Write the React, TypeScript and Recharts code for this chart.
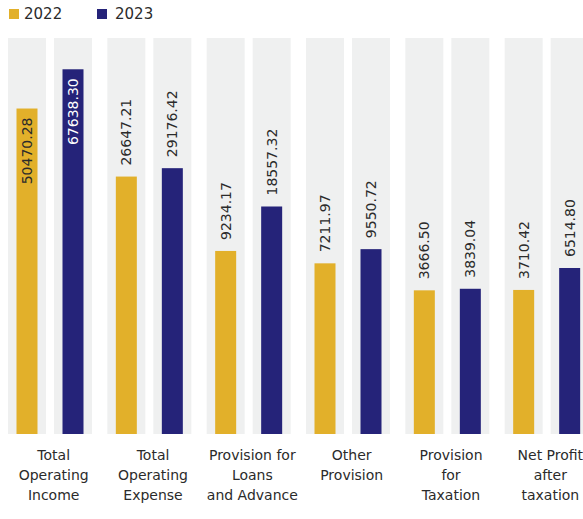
import { Bar, BarChart, LabelList, XAxis, YAxis } from "recharts";

const categories = [
  "Total\nOperating\nIncome",
  "Total\nOperating\nExpense",
  "Provision for\nLoans\nand Advance",
  "Other\nProvision",
  "Provision\nfor\nTaxation",
  "Net Profit\nafter\ntaxation",
];
const values2022 = [50470.28, 26647.21, 9234.17, 7211.97, 3666.5, 3710.42];
const values2023 = [67638.3, 29176.42, 18557.32, 9550.72, 3839.04, 6514.8];
const seriesNames = ["2022", "2023"];

const GOLD = "#e2b02a";
const NAVY = "#252379";
const TRACK = "#eff0f0";
const INK = "#2b2b2b";
const FONT = "DejaVu Sans, sans-serif";

// sqrt scale floor sits below zero so small values still read as bars
const FLOOR = -4777;
const CEIL = 83120;
const PLOT_TOP = 38;

const data = categories.map((name, i) => ({
  name,
  y2022: values2022[i],
  y2023: values2023[i],
}));

const NarrowBar = (props: any) => {
  const { x, y, width, height, fill } = props;
  const w = 21;
  return <rect x={x + (width - w) / 2} y={y} width={w} height={height} fill={fill} />;
};

const makeValueLabel = (insideColor: string) => (props: any) => {
  const { x, y, width, value } = props;
  const text = Number(value).toFixed(2);
  const cx = x + width / 2;
  const approxLen = text.length * 8.4;
  const inside = y - 11 - approxLen < PLOT_TOP;
  const ty = inside ? y + 9 : y - 11;
  return (
    <text
      x={cx}
      y={ty}
      transform={`rotate(-90, ${cx}, ${ty})`}
      textAnchor={inside ? "end" : "start"}
      dominantBaseline="central"
      fontSize={14}
      fontFamily={FONT}
      fill={inside ? insideColor : INK}
    >
      {text}
    </text>
  );
};

const CategoryTick = (props: any) => {
  const { x, payload } = props;
  const lines = String(payload.value).split("\n");
  return (
    <g transform={`translate(${x + 4},434)`}>
      {lines.map((line, i) => (
        <text
          key={i}
          x={0}
          y={26 + i * 20}
          textAnchor="middle"
          fontSize={14}
          fontFamily={FONT}
          fill={INK}
        >
          {line}
        </text>
      ))}
    </g>
  );
};

export default function App() {
  return (
    <div
      style={{
        position: "absolute",
        left: 0,
        top: 0,
        width: 583,
        height: 519,
        overflow: "hidden",
        background: "#fff",
      }}
    >
      <div
        style={{
          position: "absolute",
          left: 9,
          top: 4,
          display: "flex",
          alignItems: "center",
          fontFamily: FONT,
          fontSize: 15,
          color: INK,
          height: 20,
        }}
      >
        <span style={{ width: 10, height: 10, background: GOLD, display: "inline-block" }} />
        <span style={{ marginLeft: 5, width: 73 }}>{seriesNames[0]}</span>
        <span style={{ width: 10, height: 10, background: NAVY, display: "inline-block" }} />
        <span style={{ marginLeft: 8 }}>{seriesNames[1]}</span>
      </div>
      <BarChart
        width={600}
        height={519}
        data={data}
        margin={{ top: PLOT_TOP, right: 4, bottom: 0, left: 0 }}
        barSize={38}
        barGap={8}
      >
        <XAxis
          dataKey="name"
          height={85}
          axisLine={false}
          tickLine={false}
          interval={0}
          tick={<CategoryTick />}
        />
        <YAxis hide scale="sqrt" type="number" domain={[FLOOR, CEIL]} allowDataOverflow />
        <Bar
          dataKey={(d: any) => [FLOOR, d.y2022]}
          name={seriesNames[0]}
          fill={GOLD}
          background={{ fill: TRACK }}
          shape={<NarrowBar />}
          isAnimationActive={false}
        >
          <LabelList dataKey="y2022" content={makeValueLabel(INK)} />
        </Bar>
        <Bar
          dataKey={(d: any) => [FLOOR, d.y2023]}
          name={seriesNames[1]}
          fill={NAVY}
          background={{ fill: TRACK }}
          shape={<NarrowBar />}
          isAnimationActive={false}
        >
          <LabelList dataKey="y2023" content={makeValueLabel("#ffffff")} />
        </Bar>
      </BarChart>
    </div>
  );
}
